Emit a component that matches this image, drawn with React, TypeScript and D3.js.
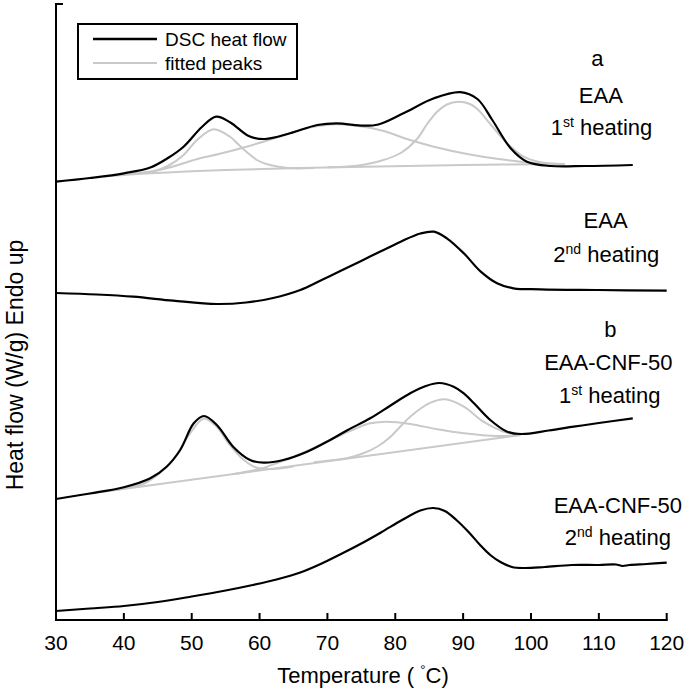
import React from "react";
import * as d3 from "d3";

type Pt = [number, number];

// Temperature (°C) vs heat flow (arbitrary, stacked offsets; endo up)
const eaa1Dsc: Pt[] = [
  [30, 438.3], [35, 442], [40, 446.7], [43.9, 452.5], [46.5, 462], [48.8, 473.3],
  [51.5, 493], [53.6, 503.3], [55.7, 497.5], [58.4, 484], [60.8, 481], [64.5, 486.7],
  [68.5, 495], [71.4, 496.7], [75.3, 494.3], [77.5, 495.5], [81.2, 506.7], [85.7, 521.7],
  [89.6, 527.8], [92.1, 521], [94.3, 500], [97, 471.7], [99.4, 458.3], [102.9, 454],
  [108, 454], [115, 455],
];
const eaa1Base: Pt[] = [
  [37, 443.5], [43.9, 446.7], [55, 450], [73.4, 453], [90, 455], [105, 456],
];
const eaa1Peak1: Pt[] = [
  [42, 446.2], [44.5, 449], [46.5, 454], [48.8, 465], [50.8, 480], [53.2, 490.7], [55.7, 483],
  [56.7, 476.7], [58.1, 468], [59.6, 460], [61, 456], [62.6, 453.5], [65, 451.7], [68, 452],
];
const eaa1Peak2: Pt[] = [
  [41, 446.3], [44, 448.5], [47, 453], [51.2, 461.7], [54, 466], [58.6, 474.3], [63.5, 484.5],
  [67, 492], [70.5, 495.5], [74, 494.5], [78.3, 489], [81.7, 481], [85.7, 473.3],
  [90.6, 466], [95.5, 460.7], [100.4, 457.3], [105, 456],
];
const eaa1Peak3: Pt[] = [
  [70, 452.8], [73, 453.5], [75.5, 455.5], [77.8, 459], [80.8, 467], [83.2, 481], [84.7, 496],
  [86.2, 508.5], [87.6, 515.5], [89.3, 518.3], [91, 516], [92.1, 511], [94, 496],
  [96.5, 476.7], [98.9, 463.3], [101.4, 457.8], [104, 456],
];
const eaa2Dsc: Pt[] = [
  [30, 327], [36, 325.5], [41.4, 323.3], [47.3, 319.3], [53.7, 316], [58, 317.5],
  [62, 322], [66, 330], [69, 339.5], [71.9, 349], [74.9, 358.8], [77.8, 368.5],
  [80.8, 378.3], [83.7, 386.5], [85.7, 388.3], [87.6, 381.7], [90.1, 366.7],
  [92.6, 348.3], [95, 336.7], [97.4, 331.7], [101.4, 330.7], [110, 330], [120, 329.3],
];
const cnf1Dsc: Pt[] = [
  [30, 121], [35, 126.5], [40, 132.7], [43.9, 141.7], [46.3, 153.3], [48.3, 170],
  [50.3, 196.7], [51.8, 204], [53.7, 195], [56.1, 173.3], [58.6, 160], [60.6, 157.3],
  [63.5, 160], [67, 168.3], [70.4, 180], [73, 190], [76.3, 201.7], [79.3, 214.5],
  [82.2, 226.7], [84.5, 234], [86.5, 237], [88.6, 233.3], [90.1, 226.7], [91.6, 216.7],
  [94, 200], [96.5, 188.3], [98.6, 186], [102.6, 189.5], [106.3, 193.3], [110, 197],
  [115, 201.7],
];
const cnf1Base: Pt[] = [[35, 126.6], [98.5, 185]];
const cnf1Peak1: Pt[] = [
  [39, 130.3], [43, 136.5], [45.5, 148], [47.5, 162], [49.5, 184], [51.8, 201.5],
  [53.7, 193], [55.5, 176], [57.5, 161], [59.5, 152.5], [62, 151], [65, 153.5],
];
const cnf1Peak2: Pt[] = [
  [56, 145.8], [60, 151], [63, 158], [66.5, 167.5], [70.4, 180], [74, 191],
  [76.3, 196.7], [78.8, 198.3], [82.2, 196], [86.2, 190.7], [90.1, 186.7], [95, 184],
  [98.5, 185],
];
const cnf1Peak3: Pt[] = [
  [68, 157.8], [70.4, 159.5], [73, 162], [75.3, 166.7], [77.5, 174], [79.3, 183.3], [82.2, 203.3],
  [85.2, 217.3], [87.4, 220.7], [90.1, 213.3], [93, 198.3], [96, 188.3], [98.5, 185],
];
const cnf2Dsc: Pt[] = [
  [30, 9], [35, 11.5], [40, 14], [45, 18], [50, 23.5], [55, 29.5], [59, 35], [62.5, 40.5],
  [66, 47.5], [69, 56], [72, 66], [75, 76.5], [78, 88], [81, 100],
  [83.7, 109.5], [85.6, 112], [87.3, 109], [89, 100], [90.8, 88], [92.5, 75], [94, 65],
  [95.5, 58], [97.2, 53], [99, 52], [102, 53], [106, 55], [110, 55], [112.5, 55.5],
  [113.5, 54], [114.5, 55], [117, 56], [120, 57.3],
];

const dscSeries = [eaa1Dsc, eaa2Dsc, cnf1Dsc, cnf2Dsc];
const fitSeries = [eaa1Base, eaa1Peak1, eaa1Peak2, eaa1Peak3, cnf1Base, cnf1Peak1, cnf1Peak2, cnf1Peak3];

const xTicks = [30, 40, 50, 60, 70, 80, 90, 100, 110, 120];

// annotation labels: [T, value, main text, superscript, rest]
const labels: [number, number, string, string, string][] = [
  [109.8, 554, "a", "", ""],
  [110.3, 517, "EAA", "", ""],
  [110.4, 485, "1", "st", " heating"],
  [111.0, 392, "EAA", "", ""],
  [111.1, 358, "2", "nd", " heating"],
  [111.7, 283, "b", "", ""],
  [111.4, 250, "EAA-CNF-50", "", ""],
  [111.6, 217, "1", "st", " heating"],
  [112.8, 107, "EAA-CNF-50", "", ""],
  [112.8, 75, "2", "nd", " heating"],
];

const legendItems = ["DSC heat flow", "fitted peaks"];

const W = 685;
const H = 695;
const FONT = "'Liberation Sans', Arial, Helvetica, sans-serif";
const GRAY = "#c9c9c9";

export default function App() {
  const x = d3.scaleLinear().domain([30, 120]).range([56, 666.7]);
  const y = d3.scaleLinear().domain([0, 615]).range([620, 5]);
  const line = d3
    .line<Pt>()
    .x((d) => x(d[0]))
    .y((d) => y(d[1]))
    .curve(d3.curveCatmullRom.alpha(0.5));

  const axisY = y(0);
  return (
    <svg
      width={W}
      height={H}
      style={{ position: "absolute", left: 0, top: 0, background: "#fff" }}
      fontFamily={FONT}
    >
      {/* fitted peaks */}
      {fitSeries.map((s, i) => (
        <path key={"f" + i} d={line(s) || ""} fill="none" stroke={GRAY} strokeWidth={2} />
      ))}
      {/* DSC curves */}
      {dscSeries.map((s, i) => (
        <path key={"d" + i} d={line(s) || ""} fill="none" stroke="#000" strokeWidth={2.2} />
      ))}

      {/* axes */}
      <line x1={x(30)} x2={x(30)} y1={3} y2={axisY + 1} stroke="#000" strokeWidth={2} />
      <line x1={x(30) - 1} x2={x(30) + 7} y1={4} y2={4} stroke="#000" strokeWidth={2} />
      <line x1={x(30) - 1} x2={x(120) + 1} y1={axisY} y2={axisY} stroke="#000" strokeWidth={2} />
      {xTicks.map((t) => (
        <g key={t}>
          <line x1={x(t)} x2={x(t)} y1={axisY} y2={axisY - 7} stroke="#000" strokeWidth={2} />
          <text x={x(t)} y={650} fontSize={21} textAnchor="middle" fill="#000">
            {t}
          </text>
        </g>
      ))}
      <text x={363} y={683} fontSize={22} textAnchor="middle" fill="#000">
        {"Temperature ( "}
        <tspan dy={-9} fontSize={13}>°</tspan>
        <tspan dy={9}>C)</tspan>
      </text>
      <text
        transform={`translate(23,365) rotate(-90)`}
        fontSize={23}
        textAnchor="middle"
        fill="#000"
      >
        Heat flow (W/g) Endo up
      </text>

      {/* annotation labels */}
      {labels.map(([t, v, main, sup, rest], i) => (
        <text key={"l" + i} x={x(t)} y={y(v)} fontSize={22} textAnchor="middle" fill="#000">
          {main}
          {sup ? (
            <tspan dy={-8} fontSize={14}>
              {sup}
            </tspan>
          ) : null}
          {sup ? <tspan dy={8}>{rest}</tspan> : null}
        </text>
      ))}

      {/* legend */}
      <rect x={78} y={24} width={219} height={55} fill="#fff" stroke="#000" strokeWidth={2} />
      <line x1={93} x2={157} y1={39} y2={39} stroke="#000" strokeWidth={2.5} />
      <line x1={93} x2={157} y1={63} y2={63} stroke={GRAY} strokeWidth={2} />
      {legendItems.map((s, i) => (
        <text key={s} x={165} y={46 + i * 24} fontSize={19} fill="#000">
          {s}
        </text>
      ))}
    </svg>
  );
}
